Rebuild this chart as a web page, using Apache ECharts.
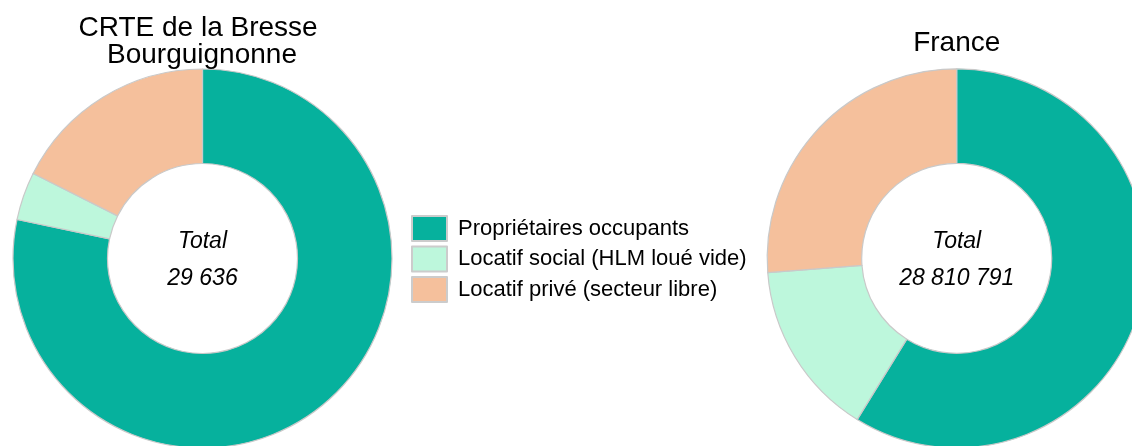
<!DOCTYPE html>
<html>
<head>
<meta charset="utf-8">
<script src="https://cdn.jsdelivr.net/npm/echarts@6/dist/echarts.min.js"></script>
<style>
html,body{margin:0;padding:0;background:#fff;}
#chart{width:1132px;height:446px;}
</style>
</head>
<body>
<div id="chart"></div>
<script>
// Data
const categories = ['Propriétaires occupants', 'Locatif social (HLM loué vide)', 'Locatif privé (secteur libre)'];
const territories = ['CRTE de la Bresse \nBourguignonne', 'France'];
const totals = ['29 636', '28 810 791'];
const valuesCRTE = [78.3, 4.1, 17.6];
const valuesFrance = [58.8, 15.0, 26.2];

const colors = ['#06b19d', '#bdf7dc', '#f5c09c'];
const FONT = '"Liberation Sans", Arial, Helvetica, sans-serif';

const centers = [[202.5, 258.5], [956.7, 258.3]];
const radius = [95, 189.5];

function pieSeries(name, values, center) {
  return {
    type: 'pie',
    name: name,
    center: center,
    radius: radius,
    startAngle: 90,
    clockwise: true,
    avoidLabelOverlap: false,
    silent: true,
    label: { show: false },
    labelLine: { show: false },
    itemStyle: { borderColor: '#c9c9c9', borderWidth: 1.2 },
    emphasis: { disabled: true },
    data: categories.map((c, i) => ({ name: c, value: values[i], itemStyle: { color: colors[i] } }))
  };
}

function centerTitle(i) {
  return {
    text: 'Total\n' + totals[i],
    left: centers[i][0], top: centers[i][1] + 1.5,
    padding: 0,
    textAlign: 'center', textVerticalAlign: 'middle',
    textStyle: { fontFamily: FONT, fontSize: 23, fontStyle: 'italic', fontWeight: 'normal', color: '#000', lineHeight: 36.7 }
  };
}

const chart = echarts.init(document.getElementById('chart'), null, { renderer: 'canvas' });
chart.setOption({
  animation: false,
  backgroundColor: '#ffffff',
  color: colors,
  title: [
    {
      text: territories[0],
      left: 202, top: 15, padding: 0,
      textAlign: 'center',
      textStyle: { fontFamily: FONT, fontSize: 28, fontWeight: 'normal', color: '#000', lineHeight: 26.7 }
    },
    {
      text: territories[1],
      left: centers[1][0], top: 30, padding: 0,
      textAlign: 'center',
      textStyle: { fontFamily: FONT, fontSize: 28, fontWeight: 'normal', color: '#000', lineHeight: 27 }
    },
    centerTitle(0),
    centerTitle(1)
  ],
  legend: {
    orient: 'vertical',
    left: 411, top: 215,
    padding: 0,
    itemWidth: 35, itemHeight: 25,
    itemGap: 3.5,
    icon: 'rect',
    selectedMode: false,
    itemStyle: { borderColor: '#cccccc', borderWidth: 2 },
    textStyle: { fontFamily: FONT, fontSize: 22, color: '#000', padding: [0, 0, 0, 6] },
    data: categories
  },
  series: [
    pieSeries(territories[0], valuesCRTE, centers[0]),
    pieSeries(territories[1], valuesFrance, centers[1])
  ]
});
</script>
</body>
</html>
